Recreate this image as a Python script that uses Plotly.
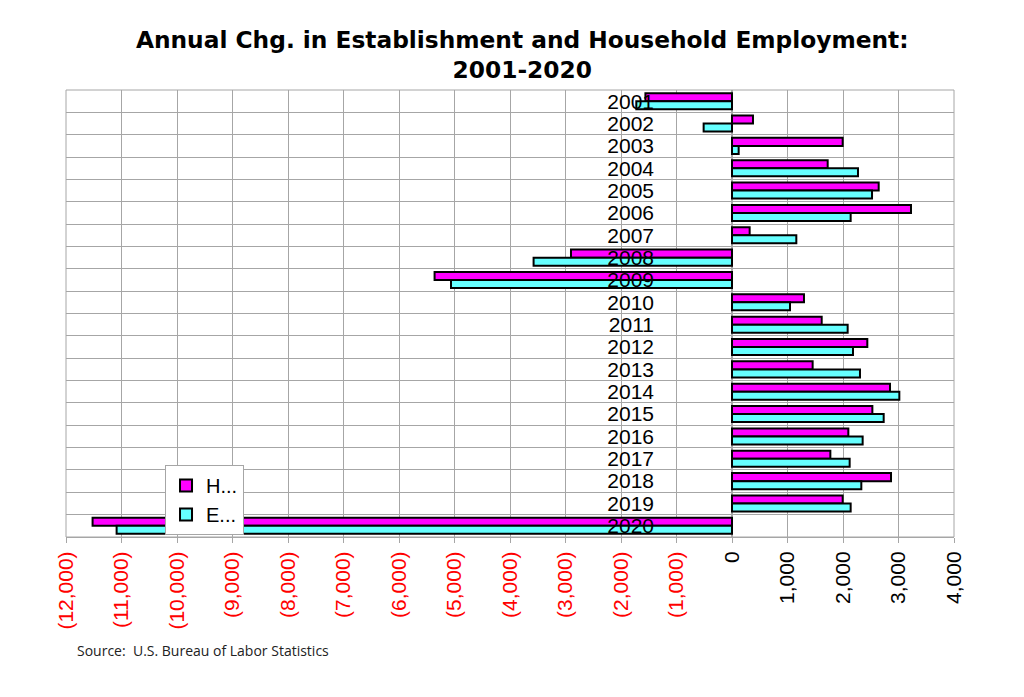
import plotly.graph_objects as go

# annual change, thousands
years = ["2001", "2002", "2003", "2004", "2005", "2006", "2007", "2008", "2009", "2010",
         "2011", "2012", "2013", "2014", "2015", "2016", "2017", "2018", "2019", "2020"]
household = [-1560, 378, 1994, 1724, 2643, 3225, 318, -2901, -5359, 1297,
             1616, 2438, 1453, 2847, 2529, 2096, 1772, 2865, 1994, -11521]
establishment = [-1724, -511, 120, 2270, 2523, 2138, 1159, -3575, -5063, 1045,
                 2084, 2180, 2306, 3015, 2733, 2354, 2120, 2330, 2138, -11088]
x_ticks = [-12000, -11000, -10000, -9000, -8000, -7000, -6000, -5000, -4000,
           -3000, -2000, -1000, 0, 1000, 2000, 3000, 4000]


def fmt(v):
    # negatives in red parentheses, like the Excel number format
    if v < 0:
        return '<span style="color:red">({:,})</span>'.format(-v)
    return "{:,}".format(v)


grid = "#a6a6a6"

fig = go.Figure()
fig.add_trace(go.Bar(
    y=years, x=household, orientation="h", name="H...",
    marker=dict(color="#ff00ff", line=dict(color="black", width=2))
))
fig.add_trace(go.Bar(
    y=years, x=establishment, orientation="h", name="E...",
    marker=dict(color="#66ffff", line=dict(color="black", width=2))
))

fig.update_layout(
    width=1024, height=697,
    margin=dict(l=66, r=70, t=90, b=160),
    paper_bgcolor="white", plot_bgcolor="white",
    barmode="group", bargap=0.28, bargroupgap=0,
    title=dict(
        text="Annual Chg. in Establishment and Household Employment:<br>2001-2020",
        font=dict(family="DejaVu Sans", size=23.3, color="black", weight="bold"),
        x=0.51, xanchor="center", y=0.931, yanchor="top"
    ),
    font=dict(family="Liberation Sans", color="black"),
    legend=dict(
        x=0.1115, y=0.161, xanchor="left", yanchor="top",
        bgcolor="white", bordercolor=grid, borderwidth=1,
        font=dict(size=20), traceorder="normal"
    ),
    xaxis=dict(
        range=[-12000, 4000], tickvals=x_ticks, ticktext=[fmt(v) for v in x_ticks],
        tickangle=-90, tickfont=dict(size=21, family="Liberation Sans"),
        showgrid=True, gridcolor=grid, zeroline=True, zerolinecolor=grid,
        showline=True, linecolor=grid, ticks="outside", ticklen=5, tickcolor=grid
    ),
    yaxis=dict(
        type="category", categoryorder="array", categoryarray=years,
        autorange="reversed", tickson="boundaries", dtick=1,
        showgrid=True, gridcolor=grid, ticks="",
        anchor="free", position=0.75, side="left",
        ticklabelstandoff=78,
        tickfont=dict(size=21, family="Liberation Sans")
    ),
    shapes=[dict(type="rect", xref="x domain", yref="y domain", x0=0, x1=1, y0=0, y1=1,
                 line=dict(color=grid, width=1))],
    annotations=[dict(
        text="Source:  U.S. Bureau of Labor Statistics", xref="paper", yref="paper",
        x=0.01, y=-0.253, xanchor="left", yanchor="middle", showarrow=False,
        font=dict(family="Open Sans", size=14, color="#222222")
    )]
)

# drop the browser's default body margin so the chart sits at the page corner
fig.write_html("out.html", config={"displayModeBar": False},
               post_script="document.body.style.margin = '0';")
